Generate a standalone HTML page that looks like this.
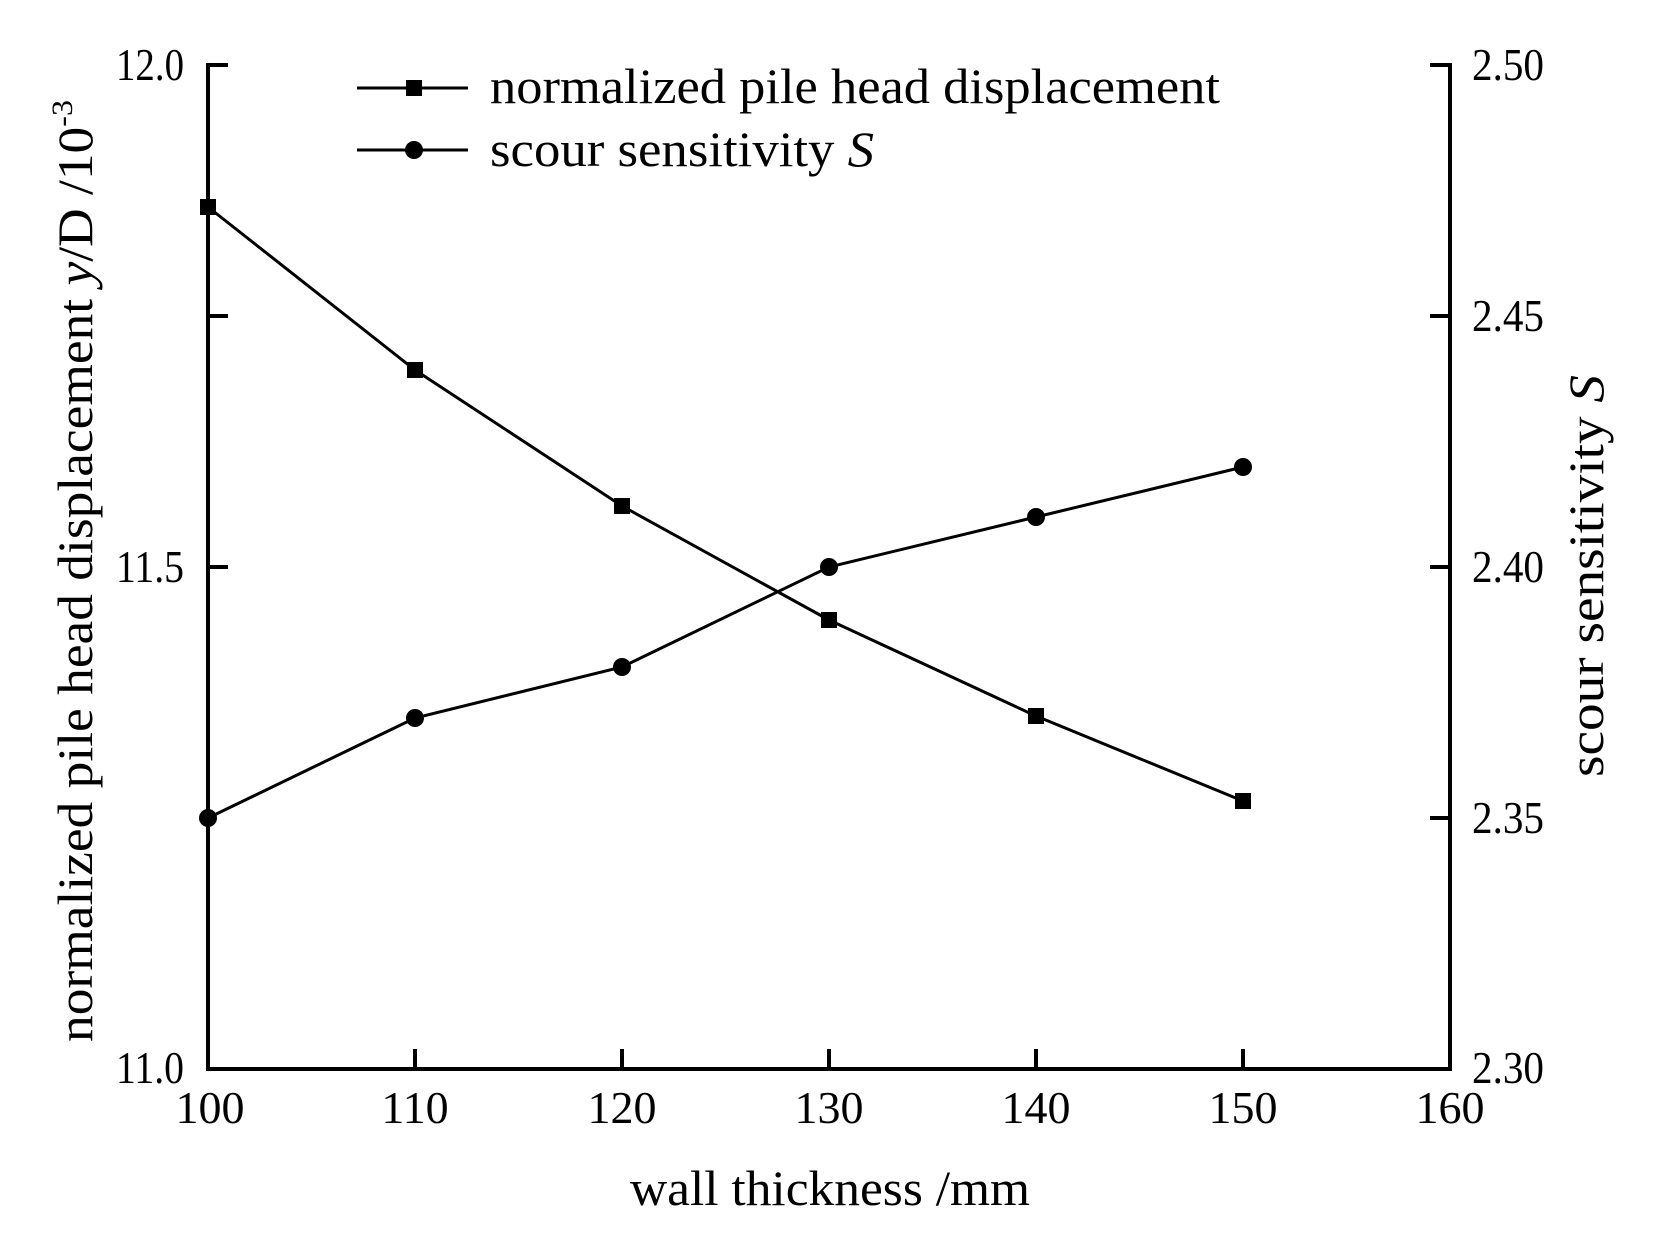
<!DOCTYPE html>
<html><head><meta charset="utf-8"><style>html,body{margin:0;padding:0;background:#fff}svg{display:block}</style></head>
<body>
<svg width="1659" height="1251" viewBox="0 0 1659 1251" xmlns="http://www.w3.org/2000/svg" font-family="Liberation Serif, serif" fill="#000">
<rect width="1659" height="1251" fill="#fff"/>
<g stroke="#000" stroke-width="4" fill="none">
<path d="M228,65 H208 V1069 H1450 V65 H1430"/>
<path d="M208,567 H228 M208,316 H228"/>
<path d="M1450,818 H1430 M1450,567 H1430 M1450,316 H1430"/>
<path d="M415,1069 V1049 M622,1069 V1049 M829,1069 V1049 M1036,1069 V1049 M1243,1069 V1049"/>
</g>
<g font-size="46" text-anchor="end">
<text x="184" y="80" textLength="68" lengthAdjust="spacingAndGlyphs">12.0</text>
<text x="184" y="582" textLength="68" lengthAdjust="spacingAndGlyphs">11.5</text>
<text x="184" y="1083" textLength="68" lengthAdjust="spacingAndGlyphs">11.0</text>
</g>
<g font-size="46" text-anchor="start">
<text x="1472" y="80" textLength="72" lengthAdjust="spacingAndGlyphs">2.50</text>
<text x="1472" y="331" textLength="72" lengthAdjust="spacingAndGlyphs">2.45</text>
<text x="1472" y="582" textLength="72" lengthAdjust="spacingAndGlyphs">2.40</text>
<text x="1472" y="833" textLength="72" lengthAdjust="spacingAndGlyphs">2.35</text>
<text x="1472" y="1083" textLength="72" lengthAdjust="spacingAndGlyphs">2.30</text>
</g>
<g font-size="46" text-anchor="middle">
<text x="210" y="1123">100</text>
<text x="415" y="1123">110</text>
<text x="622" y="1123">120</text>
<text x="829" y="1123">130</text>
<text x="1036" y="1123">140</text>
<text x="1243" y="1123">150</text>
<text x="1450" y="1123">160</text>
</g>
<polyline points="208,207 415,370 622,506 829,620 1036,716 1243,801" fill="none" stroke="#000" stroke-width="3"/>
<g>
<rect x="200" y="199" width="16" height="16"/>
<rect x="407" y="362" width="16" height="16"/>
<rect x="614" y="498" width="16" height="16"/>
<rect x="821" y="612" width="16" height="16"/>
<rect x="1028" y="708" width="16" height="16"/>
<rect x="1235" y="793" width="16" height="16"/>
</g>
<polyline points="208,818 415,718 622,667 829,567 1036,517 1243,467" fill="none" stroke="#000" stroke-width="3"/>
<g>
<circle cx="208" cy="818" r="9"/>
<circle cx="415" cy="718" r="9"/>
<circle cx="622" cy="667" r="9"/>
<circle cx="829" cy="567" r="9"/>
<circle cx="1036" cy="517" r="9"/>
<circle cx="1243" cy="467" r="9"/>
</g>
<line x1="357" y1="88" x2="468" y2="88" stroke="#000" stroke-width="3"/>
<rect x="406" y="80" width="16" height="16"/>
<line x1="357" y1="150" x2="468" y2="150" stroke="#000" stroke-width="3"/>
<circle cx="414" cy="150" r="9"/>
<g font-size="50">
<text x="490" y="103" textLength="730" lengthAdjust="spacingAndGlyphs">normalized pile head displacement</text>
<text x="490" y="166" textLength="384" lengthAdjust="spacingAndGlyphs">scour sensitivity <tspan font-style="italic">S</tspan></text>
</g>
<text x="830" y="1205" font-size="50" text-anchor="middle" textLength="400" lengthAdjust="spacingAndGlyphs">wall thickness /mm</text>
<text transform="translate(92,1042) rotate(-90)" font-size="50" textLength="942" lengthAdjust="spacingAndGlyphs">normalized pile head displacement <tspan font-style="italic">y</tspan>/D   /10<tspan font-size="30" dy="-20">-3</tspan></text>
<text transform="translate(1603,777) rotate(-90)" font-size="50" textLength="402" lengthAdjust="spacingAndGlyphs">scour sensitivity <tspan font-style="italic">S</tspan></text>
</svg>
</body></html>
